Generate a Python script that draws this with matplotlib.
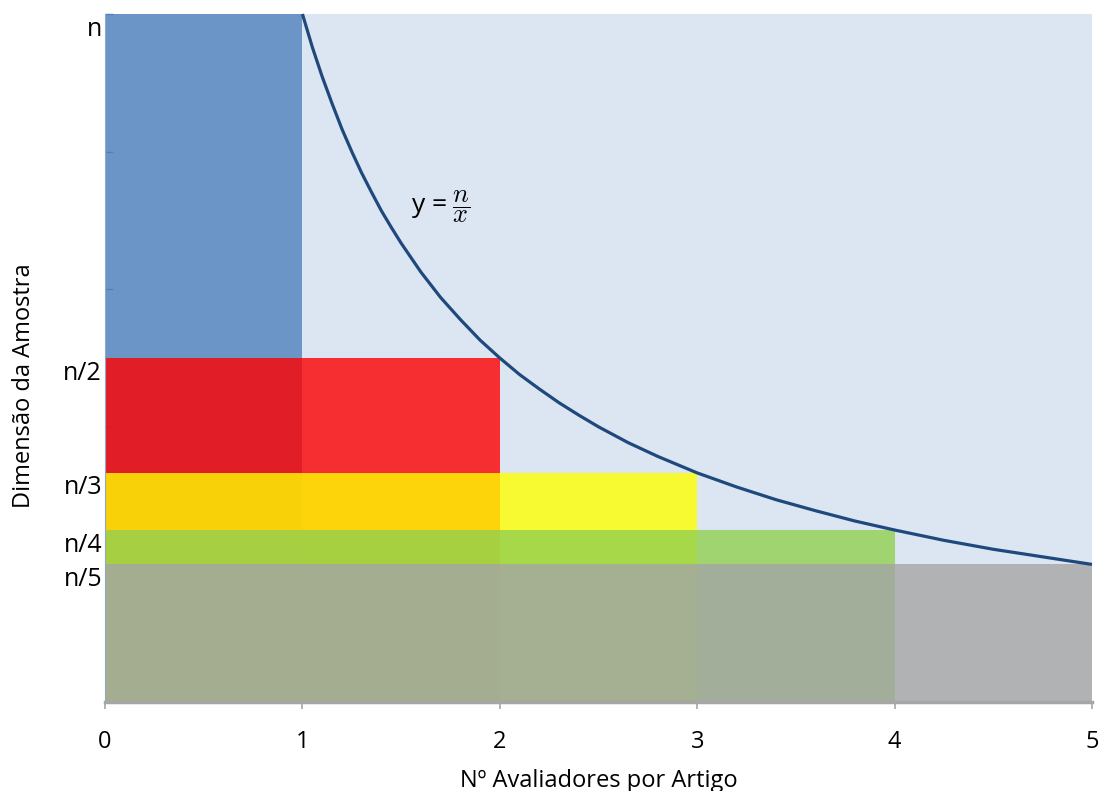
import numpy as np
import matplotlib.pyplot as plt
from matplotlib.transforms import blended_transform_factory

plt.rcParams['font.family'] = ['Open Sans', 'DejaVu Sans']
plt.rcParams['mathtext.fontset'] = 'cm'

# reviewers per article -> sample size (as fraction of n)
widths = [1, 2, 3, 4, 5]
heights = [1.0, 1 / 2, 1 / 3, 1 / 4, 1 / 5]
bar_colors = ['#4F81BD', '#FF0000', '#FFFF00', '#92D050', '#A5A5A5']
y_labels = ['n', 'n/2', 'n/3', 'n/4', 'n/5']

# curve y = n/x
curve_x = [1.0, 1.05, 1.1, 1.15, 1.2, 1.25, 1.3, 1.35, 1.4, 1.45, 1.5, 1.6,
           1.7, 1.8, 1.9, 2.0, 2.1, 2.2, 2.3, 2.4, 2.5, 2.65, 2.8, 3.0,
           3.2, 3.4, 3.6, 3.8, 4.0, 4.25, 4.5, 4.75, 5.0]
curve_y = [1.0, 0.952, 0.909, 0.870, 0.833, 0.8, 0.769, 0.741, 0.714, 0.690,
           0.667, 0.625, 0.588, 0.556, 0.526, 0.5, 0.476, 0.455, 0.435, 0.417,
           0.4, 0.377, 0.357, 0.333, 0.3125, 0.294, 0.278, 0.263, 0.25, 0.235,
           0.222, 0.211, 0.2]

fig = plt.figure(figsize=(11.01, 7.91), dpi=100)
ax = fig.add_axes([0.0954, 0.1125, 0.8964, 0.8698])
ax.set_facecolor('#DCE6F2')

for w, h, c in zip(widths, heights, bar_colors):
    ax.bar(0, h, width=w, align='edge', color=c, alpha=0.8, linewidth=0, zorder=2)

ax.plot(curve_x, curve_y, color='#1F497D', lw=2.3, zorder=3, clip_on=False,
        solid_capstyle='butt', solid_joinstyle='round')
ax.text(1.55, 0.72, r'y = $\dfrac{n}{x}$', fontsize=19, ha='left', va='center', zorder=4)

ax.set_xlim(0, 5)
ax.set_ylim(0, 1)

# x axis
ax.set_xticks(range(6))
ax.tick_params(axis='x', direction='out', length=5, width=1.2, color='#A6A6A6',
               labelsize=17, pad=15)
for s in ['top', 'right']:
    ax.spines[s].set_visible(False)
ax.spines['bottom'].set_color('#A6A6A6')
ax.spines['bottom'].set_linewidth(2.5)
ax.spines['left'].set_color('#8FA8C8')
ax.spines['left'].set_linewidth(0.8)

# y axis: small inward ticks, custom labels
ax.set_yticks([0.2, 0.4, 0.6, 0.8, 1.0])
ax.set_yticklabels([])
ax.tick_params(axis='y', direction='in', length=6, width=1, color='#5B7FAF')

trans = blended_transform_factory(ax.transAxes, ax.transData)
for h, lab in zip(heights, y_labels):
    ax.text(-0.003, h - 0.004, lab, transform=trans, fontsize=18, ha='right', va='top')

ax.set_xlabel('Nº Avaliadores por Artigo', fontsize=17, labelpad=11)
ax.set_ylabel('Dimensão da Amostra', fontsize=17)
ax.yaxis.set_label_coords(-0.070, 0.46)

fig.savefig('out.png', dpi=100)
